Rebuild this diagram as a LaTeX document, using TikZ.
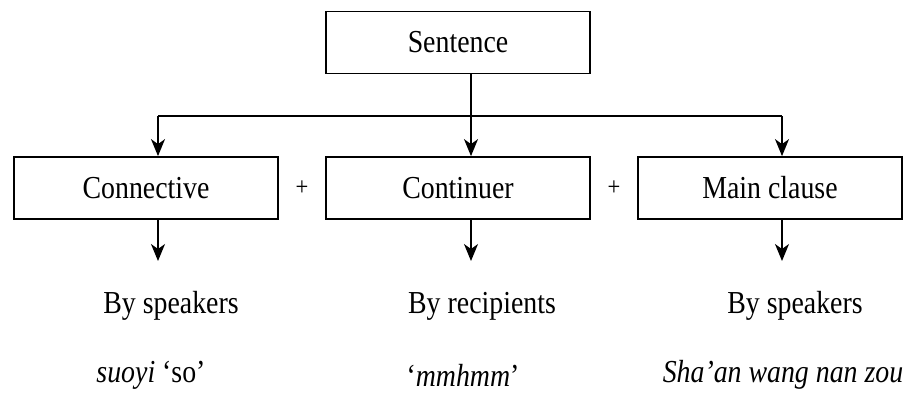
\documentclass[tikz,border=0pt]{standalone}
\usepackage{fontspec}
\setmainfont{Liberation Serif}[FakeStretch=0.87]
\usetikzlibrary{arrows.meta}

\newlength{\du}
\setlength{\du}{1pt}

\begin{document}
\begin{tikzpicture}[
  unitbox/.style={draw, rectangle, minimum width=264\du, minimum height=62\du, line width=1.8\du, inner sep=0pt},
  flowline/.style={line width=1.5\du},
  flowarrow/.style={flowline, -{Stealth[length=17pt,width=14pt,inset=5pt]}},
  every node/.style={font=\fontsize{32}{38}\selectfont},
  plusfont/.style={font=\fontsize{26}{30}\selectfont}
]
\pgftransformxscale{1.000000}
\pgftransformyscale{-1.000000}
\definecolor{dialinecolor}{rgb}{0.000000, 0.000000, 0.000000}
\useasboundingbox (0\du,0\du) rectangle (907\du,400\du);
% boxes
\node[unitbox] (sent) at (458\du,42.5\du){Sentence};
\node[unitbox] (conn) at (146\du,188\du){Connective};
\node[unitbox] (cont) at (458\du,188\du){Continuer};
\node[unitbox] (mainc) at (770\du,188\du){Main clause};
\node[plusfont] (plus1) at (302\du,188\du){+};
\node[plusfont] (plus2) at (614\du,188\du){+};
% branch points
\coordinate (split) at (471\du,116\du);
\coordinate (b1) at (158\du,116\du);
\coordinate (b2) at (471\du,116\du);
\coordinate (b3) at (782\du,116\du);
\draw[flowline, dialinecolor] (sent.south -| split)--(split);
\draw[flowline, dialinecolor] (b1)--(b3);
\draw[flowarrow, dialinecolor] (b1)--(b1 |- conn.north);
\draw[flowarrow, dialinecolor] (b2)--(b2 |- cont.north);
\draw[flowarrow, dialinecolor] (b3)--(b3 |- mainc.north);
% who produces it
\node (who1) at (171\du,306\du){By speakers};
\node (who2) at (482\du,306\du){By recipients};
\node (who3) at (795\du,306\du){By speakers};
\coordinate (e1) at (158\du,261\du);
\coordinate (e2) at (471\du,261\du);
\coordinate (e3) at (782\du,261\du);
\draw[flowarrow, dialinecolor] (e1 |- conn.south)--(e1);
\draw[flowarrow, dialinecolor] (e2 |- cont.south)--(e2);
\draw[flowarrow, dialinecolor] (e3 |- mainc.south)--(e3);
% examples
\node (ex1) at (151\du,375\du){\textit{suoyi} ‘so’};
\node (ex2) at (463\du,375\du){‘\textit{mmhmm}’};
\node (ex3) at (783\du,375\du){\textit{Sha’an wang nan zou}};
\end{tikzpicture}
\end{document}
